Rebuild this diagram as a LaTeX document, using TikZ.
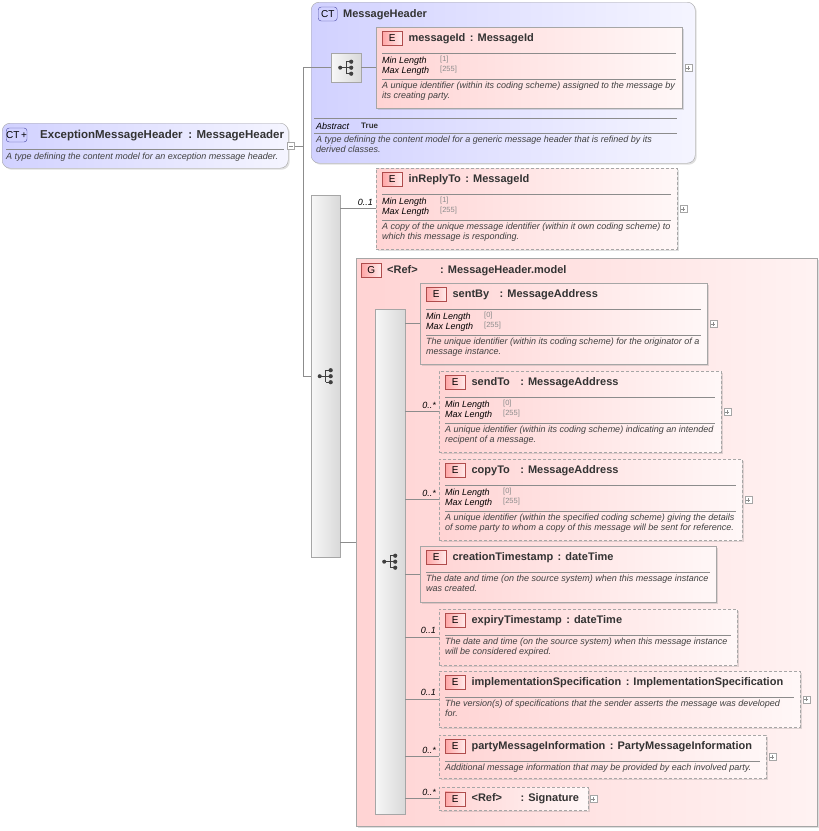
\documentclass[tikz,border=0pt]{standalone}
\usepackage{fontspec}
\setmainfont{Liberation Sans}
\usetikzlibrary{shadows,calc}

% element box: id, x, y, width, height, extra style
\newcommand\elbox[6]{%
  \node[elem,#6,minimum width=#4,minimum height=#5,anchor=north west] (#1) at (#2,#3) {};
  \node[plusbox] (#1p) at ([xshift=6pt]#1.east) {};
}
% title: id, name, type, gap
\newcommand\eltitle[4]{%
  \node[ebadge,anchor=west] (#1b) at ($(#1.north west)+(6,11)$) {E};
  \node[ttl,anchor=west] (#1n) at ($(#1b.east)+(6,0)$) {#2};
  \node[ttl,anchor=west] (#1t) at ($(#1n.east)+(#4,0)$) {: #3};
  \draw[sep] ($(#1.north west)+(6,26)$) -- ($(#1.north east)+(-6,26)$);
}
% facets: id, min, max
\newcommand\elfacets[3]{%
  \node[fct,anchor=west] (#1f1) at ($(#1.north west)+(6,34)$) {Min Length};
  \node[fval,anchor=west] (#1v1) at ($(#1.north west)+(64,33)$) {[#2]};
  \node[fct,anchor=west] (#1f2) at ($(#1.north west)+(6,44)$) {Max Length};
  \node[fval,anchor=west] (#1v2) at ($(#1.north west)+(64,43)$) {[#3]};
  \draw[sep] ($(#1.north west)+(6,52)$) -- ($(#1.north east)+(-6,52)$);
}
% description: id, y offset, text
\newcommand\eldesc[3]{%
  \node[dsc,anchor=north west] (#1d) at ($(#1.north west)+(6,#2)$) {#3};
}
% sequence compositor icon at a node
\newcommand\seqicon[1]{%
  \fill[black!75] ($(#1)+(-6,0)$) circle (2);
  \draw[black!75,line width=1] ($(#1)+(-6,0)$) -- ($(#1)+(0,0)$) ($(#1)+(0,-6)$) -- ($(#1)+(0,6)$)
     ($(#1)+(0,-6)$) -- ($(#1)+(4,-6)$) ($(#1)+(0,6)$) -- ($(#1)+(4,6)$) ($(#1)$) -- ($(#1)+(4,0)$);
  \foreach \dy in {-6,0,6} \fill[black!75] ($(#1)+(5,\dy)$) circle (2.1);
}

\tikzset{
  elem/.style={draw=black!35,left color=red!17!white,right color=red!3!white,drop shadow={shadow xshift=1.5pt,shadow yshift=-1.5pt,opacity=.25},inner sep=0},
  opt/.style={dash pattern=on 3pt off 2pt},
  plusbox/.style={draw=black!35,fill=white,minimum size=7pt,inner sep=0,path picture={\draw[black!45] ([xshift=1.5pt]path picture bounding box.west) -- ([xshift=-1.5pt]path picture bounding box.east) ([yshift=1.5pt]path picture bounding box.south) -- ([yshift=-1.5pt]path picture bounding box.north);}},
  ebadge/.style={draw=red!55!black!70,left color=red!35!white,right color=red!8!white,minimum width=20pt,minimum height=14pt,inner sep=0,font=\fontsize{10}{11}\selectfont},
  ctbadge/.style={draw=blue!50!black!70,rounded corners=3pt,fill=blue!18!white,minimum width=19pt,minimum height=14pt,inner sep=0,font=\fontsize{10}{11}\selectfont},
  ttl/.style={font=\fontsize{11}{12}\selectfont\bfseries,text=black!80,inner sep=0,text height=8pt,text depth=2pt},
  fct/.style={font=\fontsize{9}{10}\selectfont\itshape,inner sep=0,text height=6.5pt,text depth=2pt},
  fval/.style={font=\fontsize{7.5}{8}\selectfont,text=black!45,inner sep=0},
  dsc/.style={font=\fontsize{9}{10}\selectfont\itshape,text=black!75,align=left,inner sep=0},
  sep/.style={draw=black!45,line width=0.5pt},
  wire/.style={draw=black!45,line width=0.6pt},
  seqbox/.style={draw=black!35,left color=black!3,right color=black!15,inner sep=0,anchor=north west},
  card/.style={font=\fontsize{9}{10}\selectfont\itshape,inner sep=0,anchor=south east},
}

\begin{document}
\begin{tikzpicture}[x=1pt,y=-1pt]
\useasboundingbox (0,0) rectangle (819,831);

% derived type
\node[draw=black!35,rounded corners=8pt,left color=blue!18!white,right color=blue!4!white,drop shadow={shadow xshift=1.5pt,shadow yshift=-1.5pt,opacity=.25},minimum width=286,minimum height=45,anchor=north west] (exc) at (2,123) {};
\node[ctbadge,anchor=west] (excb) at (6,135) {CT\,+};
\node[ttl,anchor=west,font=\fontsize{11.5}{12}\selectfont\bfseries] (excn) at (40,135) {ExceptionMessageHeader\enspace: MessageHeader};
\draw[sep] (6,149) -- (284,149);
\node[dsc,anchor=west] (excd) at (6,157) {A type defining the content model for an exception message header.};
\node[plusbox,path picture={\draw[black!45] ([xshift=1.5pt]path picture bounding box.west) -- ([xshift=-1.5pt]path picture bounding box.east);}] (excm) at (291,146) {};

% base type
\node[draw=black!35,rounded corners=8pt,left color=blue!18!white,right color=blue!4!white,drop shadow={shadow xshift=1.5pt,shadow yshift=-1.5pt,opacity=.25},minimum width=384,minimum height=161,anchor=north west] (base) at (311,2) {};
\node[ctbadge,anchor=west] (baseb) at (318,14) {CT};
\node[ttl,anchor=west] (basen) at (343,14) {MessageHeader};
\node[seqbox,minimum width=30,minimum height=29] (bseq) at (331,53) {};
\seqicon{bseq.center}
\elbox{mid}{376}{27}{306}{81}{}
\eltitle{mid}{messageId}{MessageId}{4}
\elfacets{mid}{1}{255}
\eldesc{mid}{55}{A unique identifier (within its coding scheme) assigned to the message by\\its creating party.}
\draw[sep] (314,118) -- (677,118);
\node[fct,anchor=west] (abs) at (316,127) {Abstract};
\node[fval,anchor=west,font=\fontsize{8}{9}\selectfont\bfseries,text=black!80] (absv) at (361,126) {True};
\draw[sep] (314,133) -- (677,133);
\node[dsc,anchor=north west] (based) at (316,136) {A type defining the content model for a generic message header that is refined by its\\derived classes.};

% outer sequence
\node[seqbox,minimum width=29,minimum height=362] (oseq) at (311,195) {};
\seqicon{oseq.center}
\draw[wire] (excm.east) -- (303,146);
\draw[wire] (base.west |- bseq.west) -- (303,84 |- bseq.west) -- (oseq.west -| 303,0) -- (oseq.west);
\draw[wire] (base.west |- bseq.west) -- (bseq.west) (bseq.east) -- (mid.west |- bseq.east);

\elbox{irt}{376}{168}{301}{81}{opt}
\eltitle{irt}{inReplyTo}{MessageId}{4}
\elfacets{irt}{1}{255}
\eldesc{irt}{55}{A copy of the unique message identifier (within it own coding scheme) to\\which this message is responding.}
\draw[wire] (oseq.east |- irt.west) -- (irt.west);
\node[card] (irtc) at ($(irt.west)+(-3,-3)$) {0..1};

% group
\node[draw=black!35,left color=red!17!white,right color=red!5!white,drop shadow={shadow xshift=1.5pt,shadow yshift=-1.5pt,opacity=.25},minimum width=461,minimum height=568,anchor=north west] (grp) at (356,258) {};
\node[ebadge,anchor=west] (grpb) at (361,270) {G};
\node[ttl,anchor=west] (grpr) at (387,270) {<Ref>};
\node[ttl,anchor=west] (grpn) at (440,270) {: MessageHeader.model};
\draw[wire] (oseq.east |- grp.west) ++(0,0) coordinate (gw) -- (grp.west |- gw);

\node[seqbox,minimum width=30,minimum height=505] (iseq) at (375,309) {};
\seqicon{iseq.center}

\elbox{sby}{420}{283}{287}{81}{}
\eltitle{sby}{sentBy}{MessageAddress}{10}
\elfacets{sby}{0}{255}
\eldesc{sby}{55}{The unique identifier (within its coding scheme) for the originator of a\\message instance.}

\elbox{sto}{439}{371}{282}{81}{opt}
\eltitle{sto}{sendTo}{MessageAddress}{10}
\elfacets{sto}{0}{255}
\eldesc{sto}{55}{A unique identifier (within its coding scheme) indicating an intended\\recipent of a message.}

\elbox{cto}{439}{459}{303}{81}{opt}
\eltitle{cto}{copyTo}{MessageAddress}{10}
\elfacets{cto}{0}{255}
\eldesc{cto}{55}{A unique identifier (within the specified coding scheme) giving the details\\of some party to whom a copy of this message will be sent for reference.}

\node[elem,minimum width=296,minimum height=56,anchor=north west] (cts) at (420,546) {};
\eltitle{cts}{creationTimestamp}{dateTime}{4}
\eldesc{cts}{29}{The date and time (on the source system) when this message instance\\was created.}

\node[elem,opt,minimum width=298,minimum height=56,anchor=north west] (ets) at (439,609) {};
\eltitle{ets}{expiryTimestamp}{dateTime}{4}
\eldesc{ets}{29}{The date and time (on the source system) when this message instance\\will be considered expired.}

\elbox{isp}{439}{671}{361}{56}{opt}
\eltitle{isp}{implementationSpecification}{ImplementationSpecification}{4}
\eldesc{isp}{29}{The version(s) of specifications that the sender asserts the message was developed\\for.}

\elbox{pmi}{439}{735}{327}{43}{opt}
\eltitle{pmi}{partyMessageInformation}{PartyMessageInformation}{4}
\eldesc{pmi}{29}{Additional message information that may be provided by each involved party.}

\node[elem,opt,minimum width=149,minimum height=23,anchor=north west] (sig) at (439,787) {};
\node[ebadge,anchor=west] (sigb) at ($(sig.west)+(6,0)$) {E};
\node[ttl,anchor=west] (sigr) at ($(sigb.east)+(6,0)$) {<Ref>};
\node[ttl,anchor=west] (sign) at ($(sigr.east)+(18,0)$) {: Signature};
\node[plusbox] (sigp) at ([xshift=5pt]sig.east) {};

\foreach \c in {sby,sto,cto,cts,ets,isp,pmi,sig}
  \draw[wire] (iseq.east |- \c.west) -- (\c.west);
\foreach \c/\m in {sto/0..*,cto/0..*,ets/0..1,isp/0..1,pmi/0..*,sig/0..*}
  \node[card] (\c c) at ($(\c.west)+(-3,-3)$) {\m};
\end{tikzpicture}
\end{document}
